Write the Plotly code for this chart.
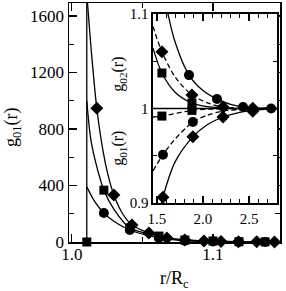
import plotly.graph_objects as go

# ---------------- main panel data (r/Rc, g01) ----------------
contact_r = 1.0106
contact_top = 1760.0

dia_curve_r = [1.0106, 1.0140, 1.0177, 1.0220, 1.0255, 1.0298, 1.0360, 1.0426, 1.0546, 1.0674, 1.0800, 1.0936, 1.1057, 1.1180, 1.1310, 1.1436]
dia_curve_g = [1760, 1330, 947, 650, 480, 332, 200, 120, 64, 28, 14, 7, 4, 2, 1, 0.5]
dia_mark_r = [1.0177, 1.0298, 1.0426, 1.0546, 1.0674, 1.0800, 1.0936, 1.1057, 1.1180, 1.1310, 1.1436]
dia_mark_g = [947, 332, 120, 64, 28, 14, 7, 4, 2, 1, 0.5]

sq_curve_r = [1.0106, 1.0125, 1.0139, 1.0170, 1.0200, 1.0227, 1.0300, 1.0411, 1.0617, 1.0801, 1.1000, 1.1184, 1.1369]
sq_curve_g = [1000, 800, 700, 560, 450, 367, 230, 100, 42, 14, 7, 2, 1]
sq_mark_r = [1.0106, 1.0227, 1.0411, 1.0617, 1.0801, 1.1000, 1.1184, 1.1369]
sq_mark_g = [0, 367, 100, 42, 14, 7, 2, 1]

ci_curve_r = [1.0106, 1.0160, 1.0227, 1.0300, 1.0411, 1.0617, 1.0801, 1.1000, 1.1184, 1.1369]
ci_curve_g = [390, 290, 205, 145, 85, 30, 10, 4, 1, 0.5]
ci_mark_r = [1.0227, 1.0411, 1.0617, 1.0801, 1.1000, 1.1184, 1.1369]
ci_mark_g = [205, 85, 30, 10, 4, 1, 0.5]

main_x_ticks = [1.0, 1.1]
main_y_ticks = [0, 400, 800, 1200, 1600]

# ---------------- inset data (r/Rc, g02 above 1, g01 below 1) ----------------
in_ci_up_r = [1.60, 1.62, 1.69, 1.848, 2.00, 2.152, 2.30, 2.435, 2.60, 2.74, 2.80]
in_ci_up_g = [1.108, 1.100, 1.0725, 1.0354, 1.019, 1.010, 1.0045, 1.0016, 1.0005, 1.0, 1.0]
in_ci_up_mr = [1.848, 2.152, 2.435, 2.74]
in_ci_up_mg = [1.0354, 1.010, 1.0016, 1.0]

in_dia_up_r = [1.457, 1.554, 1.70, 1.88, 2.05, 2.217, 2.54, 2.80]
in_dia_up_g = [1.087, 1.060, 1.033, 1.0143, 1.006, 1.0016, 1.0003, 1.0]
in_dia_up_mr = [1.554, 1.88, 2.217, 2.54]
in_dia_up_mg = [1.060, 1.0143, 1.0016, 1.0003]

in_sq_up_r = [1.457, 1.554, 1.70, 1.88, 2.05, 2.30, 2.80]
in_sq_up_g = [1.064, 1.0376, 1.017, 1.0058, 1.002, 1.0, 1.0]
in_sq_up_mr = [1.554, 1.88]
in_sq_up_mg = [1.0376, 1.0058]

in_sq_lo_r = [1.457, 1.554, 1.88, 2.10, 2.80]
in_sq_lo_g = [0.991, 0.992, 0.998, 0.9995, 1.0]
in_sq_lo_mr = [1.554, 1.88]
in_sq_lo_mg = [0.992, 0.998]

in_ci_lo_r = [1.457, 1.565, 1.70, 1.89, 2.05, 2.20, 2.40, 2.60, 2.80]
in_ci_lo_g = [0.934, 0.951, 0.968, 0.9857, 0.993, 0.997, 0.999, 1.0, 1.0]
in_ci_lo_mr = [1.565, 1.89]
in_ci_lo_mg = [0.951, 0.9857]

in_dia_lo_r = [1.530, 1.565, 1.70, 1.89, 2.05, 2.217, 2.40, 2.54, 2.80]
in_dia_lo_g = [0.890, 0.906, 0.944, 0.970, 0.983, 0.991, 0.996, 0.998, 1.0]
in_dia_lo_mr = [1.565, 1.89, 2.217, 2.54]
in_dia_lo_mg = [0.906, 0.970, 0.991, 0.997]

inset_level = 1.0
inset_y_ticks = [0.9, 1.0, 1.1]
inset_y_text = ["0.9", "1", "1.1"]

FONT = "Liberation Serif"
LW = 1.3

fig = go.Figure()


def line(x, y, xa="x", ya="y", dash="solid"):
    fig.add_trace(go.Scatter(x=x, y=y, mode="lines", xaxis=xa, yaxis=ya,
                             line=dict(color="black", width=LW, dash=dash, shape="spline", smoothing=0.8),
                             showlegend=False, hoverinfo="skip"))


def marks(x, y, sym, size, xa="x", ya="y"):
    fig.add_trace(go.Scatter(x=x, y=y, mode="markers", xaxis=xa, yaxis=ya, cliponaxis=False,
                             marker=dict(symbol=sym, size=size, color="black", line=dict(width=0)),
                             showlegend=False, hoverinfo="skip"))


# main panel
fig.add_trace(go.Scatter(x=[contact_r, contact_r], y=[0, contact_top], mode="lines",
                         line=dict(color="black", width=LW), showlegend=False, hoverinfo="skip"))
line(ci_curve_r, ci_curve_g)
line(sq_curve_r, sq_curve_g)
line(dia_curve_r, dia_curve_g)
marks(ci_mark_r, ci_mark_g, "circle", 10)
marks(dia_mark_r, dia_mark_g, "diamond", 10)
marks(sq_mark_r, sq_mark_g, "square", 9)

# inset
fig.add_trace(go.Scatter(x=[1.40, 2.90], y=[inset_level, inset_level], mode="lines", xaxis="x2", yaxis="y2",
                         line=dict(color="black", width=LW), showlegend=False, hoverinfo="skip"))
line(in_ci_up_r, in_ci_up_g, "x2", "y2")
line(in_dia_up_r, in_dia_up_g, "x2", "y2", dash="5px,3px")
line(in_sq_up_r, in_sq_up_g, "x2", "y2")
line(in_sq_lo_r, in_sq_lo_g, "x2", "y2", dash="5px,3px")
line(in_ci_lo_r, in_ci_lo_g, "x2", "y2", dash="5px,3px")
line(in_dia_lo_r, in_dia_lo_g, "x2", "y2")
marks(in_ci_up_mr, in_ci_up_mg, "circle", 10, "x2", "y2")
marks(in_ci_lo_mr, in_ci_lo_mg, "circle", 10, "x2", "y2")
marks(in_dia_up_mr, in_dia_up_mg, "diamond", 10, "x2", "y2")
marks(in_dia_lo_mr, in_dia_lo_mg, "diamond", 10, "x2", "y2")
marks(in_sq_up_mr, in_sq_up_mg, "square", 9, "x2", "y2")
marks(in_sq_lo_mr, in_sq_lo_mg, "square", 9, "x2", "y2")

axis_common = dict(showline=True, linecolor="black", linewidth=1.5, mirror="ticks", ticks="inside",
                   tickcolor="black", tickwidth=1.2, showgrid=False, zeroline=False, automargin=False,
                   tickfont=dict(family=FONT, size=17, color="black"))

fig.update_layout(
    width=286, height=291,
    margin=dict(l=69, r=6, t=3, b=49, autoexpand=False),
    paper_bgcolor="white", plot_bgcolor="white",
    font=dict(family=FONT, color="black"),
    xaxis=dict(axis_common, range=[0.998, 1.1475], tickvals=main_x_ticks, tickformat=".1f", ticklen=8,
               minor=dict(dtick=0.05, tick0=1.0, ticklen=5, ticks="inside", tickcolor="black"),
               ticklabelstandoff=-4),
    yaxis=dict(axis_common, range=[0, 1692], tickvals=main_y_ticks, ticklen=8,
               minor=dict(dtick=200, tick0=0, ticklen=5, ticks="inside", tickcolor="black")),
    xaxis2=dict(axis_common, domain=[0.398, 0.986], anchor="y2", range=[1.457, 2.804],
                dtick=0.5, tick0=1.5, tickformat=".1f", ticklen=7,
                tickfont=dict(family=FONT, size=15, color="black"), ticklabelstandoff=1,
                minor=dict(dtick=0.1, tick0=1.5, ticklen=4, ticks="inside", tickcolor="black")),
    yaxis2=dict(axis_common, domain=[0.163, 0.954], anchor="x2", range=[0.8999, 1.1001],
                tickvals=inset_y_ticks, ticktext=inset_y_text, ticklen=7,
                tickfont=dict(family=FONT, size=15, color="black"),
                minor=dict(tickvals=[0.95, 1.05], ticklen=4, ticks="inside", tickcolor="black")),
    annotations=[
        dict(text="g<sub>01</sub>(r)", xref="paper", yref="paper", x=-0.27, y=0.481, textangle=-90,
             showarrow=False, font=dict(family=FONT, size=18, color="black"), xanchor="center", yanchor="middle"),
        dict(text="r/R<sub>c</sub>", xref="paper", yref="paper", x=0.502, y=-0.155,
             showarrow=False, font=dict(family=FONT, size=18, color="black"), xanchor="center", yanchor="middle"),
        dict(text="g<sub>02</sub>(r)", xref="paper", yref="paper", x=0.237, y=0.70, textangle=-90,
             showarrow=False, font=dict(family=FONT, size=16, color="black"), xanchor="center", yanchor="middle"),
        dict(text="g<sub>01</sub>(r)", xref="paper", yref="paper", x=0.237, y=0.39, textangle=-90,
             showarrow=False, font=dict(family=FONT, size=16, color="black"), xanchor="center", yanchor="middle"),
    ],
)

fig.write_html("out.html", config={"displayModeBar": False, "staticPlot": True},
               post_script="document.body.style.margin='0';document.body.style.padding='0';")
